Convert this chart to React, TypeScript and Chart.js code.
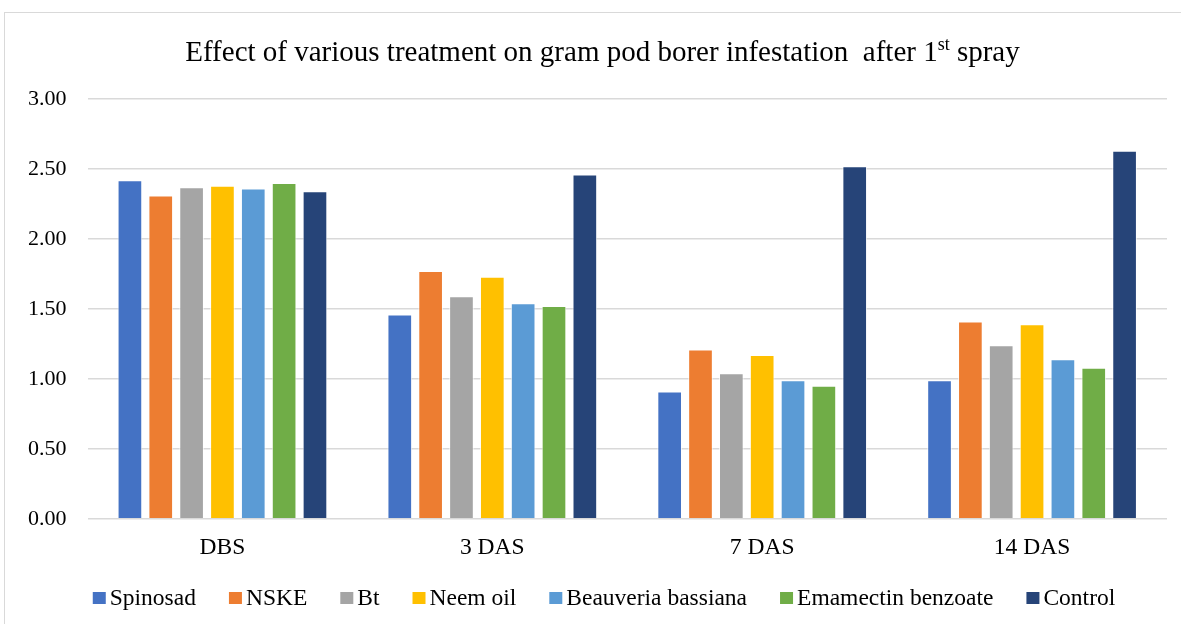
import React, { useEffect, useRef } from "react";
import { Chart, registerables } from "chart.js";

Chart.register(...registerables);

const categories = ["DBS", "3 DAS", "7 DAS", "14 DAS"];
const seriesNames = ["Spinosad", "NSKE", "Bt", "Neem oil", "Beauveria bassiana", "Emamectin benzoate", "Control"];
const spinosad = [2.42, 1.46, 0.91, 0.99];
const nske = [2.31, 1.77, 1.21, 1.41];
const bt = [2.37, 1.59, 1.04, 1.24];
const neemOil = [2.38, 1.73, 1.17, 1.39];
const beauveria = [2.36, 1.54, 0.99, 1.14];
const emamectin = [2.40, 1.52, 0.95, 1.08];
const control = [2.34, 2.46, 2.52, 2.63];
const colors = ["#4472C4", "#ED7D31", "#A5A5A5", "#FFC000", "#5B9BD5", "#70AD47", "#264478"];
const yTicks = [0, 0.5, 1, 1.5, 2, 2.5, 3];

const FAMILY = "'Liberation Serif', 'Times New Roman', serif";

const titlePlugin = {
  id: "supTitle",
  afterDraw(chart: any) {
    const ctx = chart.ctx;
    ctx.save();
    const main = "Effect of various treatment on gram pod borer infestation  after 1";
    const sup = "st";
    const tail = " spray";
    const big = `29px ${FAMILY}`;
    const small = `18px ${FAMILY}`;
    ctx.font = big;
    const w1 = ctx.measureText(main).width;
    const w3 = ctx.measureText(tail).width;
    ctx.font = small;
    const w2 = ctx.measureText(sup).width;
    const total = w1 + w2 + w3;
    let x = 602.5 - total / 2;
    const y = 61;
    ctx.fillStyle = "#000";
    ctx.textBaseline = "alphabetic";
    ctx.textAlign = "left";
    ctx.font = big;
    ctx.fillText(main, x, y);
    x += w1;
    ctx.font = small;
    ctx.fillText(sup, x, y - 11);
    x += w2;
    ctx.font = big;
    ctx.fillText(tail, x, y);
    ctx.restore();
  },
};

const legendPlugin = {
  id: "customLegend",
  afterDraw(chart: any) {
    const ctx = chart.ctx;
    ctx.save();
    ctx.font = `23.5px ${FAMILY}`;
    const box = 13;
    const textGap = 4;
    const itemGap = 33;
    const items = chart.data.datasets.map((d: any) => ({
      label: d.label as string,
      color: d.backgroundColor as string,
      w: ctx.measureText(d.label).width,
    }));
    const total =
      items.reduce((s: number, it: any) => s + box + textGap + it.w, 0) + itemGap * (items.length - 1);
    let x = 604 - total / 2;
    const cy = 598;
    ctx.textBaseline = "middle";
    ctx.textAlign = "left";
    for (const it of items) {
      ctx.fillStyle = it.color;
      ctx.fillRect(x, cy - 6, box, 12);
      ctx.fillStyle = "#000";
      ctx.fillText(it.label, x + box + textGap, cy + 1);
      x += box + textGap + it.w + itemGap;
    }
    ctx.restore();
  },
};

export default function App() {
  const ref = useRef<HTMLCanvasElement>(null);
  useEffect(() => {
    const values = [spinosad, nske, bt, neemOil, beauveria, emamectin, control];
    const chart = new Chart(ref.current as HTMLCanvasElement, {
      type: "bar",
      data: {
        labels: categories,
        datasets: seriesNames.map((n, i) => ({
          label: n,
          data: values[i],
          backgroundColor: colors[i],
          borderColor: "rgba(255,255,255,0.7)",
          borderWidth: 1,
          categoryPercentage: 0.8,
          barPercentage: 0.8,
        })),
      },
      options: {
        animation: false,
        responsive: false,
        layout: { padding: { left: 7, right: 14, top: 99, bottom: 55 } },
        plugins: {
          title: { display: false },
          tooltip: { enabled: false },
          legend: { display: false },
        },
        scales: {
          x: {
            grid: { display: false },
            border: { display: false },
            ticks: {
              color: "#000",
              padding: 7,
              font: { family: FAMILY, size: 23.5 },
            },
          },
          y: {
            min: 0,
            max: 3,
            afterBuildTicks: (axis: any) => {
              axis.ticks = yTicks.map((v) => ({ value: v }));
            },
            grid: { color: "#D9D9D9", lineWidth: 1.5, drawTicks: false },
            border: { display: false },
            ticks: {
              color: "#000",
              padding: 21,
              font: { family: FAMILY, size: 22 },
              callback: (v: any) => Number(v).toFixed(2),
            },
          },
        },
      },
      plugins: [titlePlugin, legendPlugin],
    });
    return () => chart.destroy();
  }, []);
  return (
    <div style={{ position: "fixed", left: 0, top: 0, width: 1181, height: 624, background: "#fff" }}>
      <div
        style={{
          position: "absolute",
          left: 4,
          top: 12,
          width: 1190,
          height: 640,
          border: "1.5px solid #D9D9D9",
          boxSizing: "border-box",
        }}
      />
      <canvas ref={ref} width={1181} height={624} style={{ position: "absolute", left: 0, top: 0 }} />
    </div>
  );
}
